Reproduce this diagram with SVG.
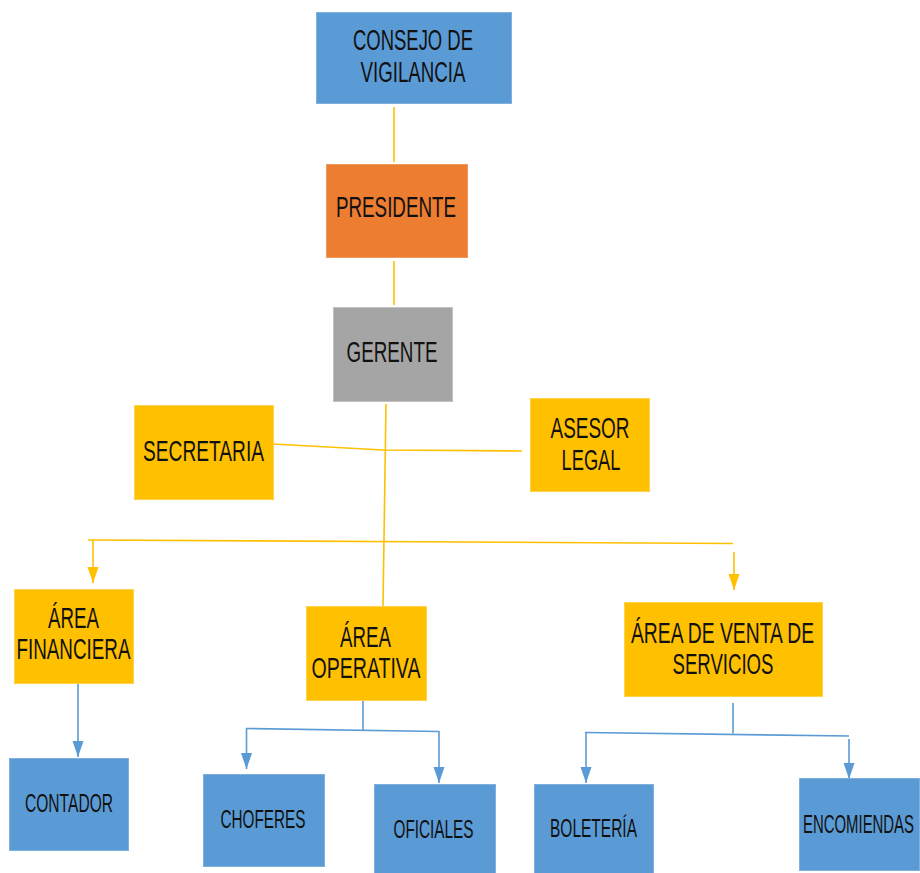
<svg xmlns="http://www.w3.org/2000/svg" width="920" height="873" viewBox="0 0 920 873">
  <defs>
    <style>
      .box { stroke-width: 1; }
      .blue { fill: #5b9bd5; stroke: #7fb0de; }
      .orange { fill: #ed7d31; stroke: #f09a5e; }
      .gray { fill: #a5a5a5; stroke: #c2c2c2; }
      .gold { fill: #ffc000; stroke: #ffd24d; }
      .lbl { font-family: "Liberation Sans", Arial, sans-serif; font-size: 29px; fill: #111; text-anchor: middle; }
      .sm { font-size: 25px; }
      .ylw { stroke: #ffc000; stroke-width: 1.6; fill: none; }
      .blu { stroke: #5b9bd5; stroke-width: 1.6; fill: none; }
    </style>
    <marker id="arrY" markerUnits="userSpaceOnUse" markerWidth="16" markerHeight="12" refX="16" refY="6" orient="auto">
      <path d="M0,0.5 L16,6 L0,11.5 z" fill="#ffc000"/>
    </marker>
    <marker id="arrB" markerUnits="userSpaceOnUse" markerWidth="16" markerHeight="12" refX="16" refY="6" orient="auto">
      <path d="M0,0.5 L16,6 L0,11.5 z" fill="#5b9bd5"/>
    </marker>
  </defs>

  <!-- connectors -->
  <g id="connectors">
    <line class="ylw" x1="394" y1="107" x2="394" y2="162"/>
    <line class="ylw" x1="394" y1="261" x2="394" y2="305"/>
    <line class="ylw" x1="386" y1="404" x2="383" y2="606"/>
    <polyline class="ylw" points="273,444 383,450 522,451"/>
    <line class="ylw" x1="88" y1="540" x2="733" y2="543.5"/>
    <line class="ylw" x1="93" y1="540" x2="93" y2="583" marker-end="url(#arrY)"/>
    <line class="ylw" x1="734" y1="552" x2="734" y2="590" marker-end="url(#arrY)"/>

    <line class="blu" x1="78" y1="684" x2="78" y2="757" marker-end="url(#arrB)"/>

    <line class="blu" x1="363" y1="700" x2="363" y2="730"/>
    <line class="blu" x1="246" y1="728.5" x2="439.5" y2="731.5"/>
    <line class="blu" x1="246.5" y1="728.5" x2="246.5" y2="769" marker-end="url(#arrB)"/>
    <line class="blu" x1="439" y1="731.5" x2="439" y2="783" marker-end="url(#arrB)"/>

    <line class="blu" x1="733" y1="703" x2="733" y2="733.5"/>
    <line class="blu" x1="585" y1="732.5" x2="849" y2="736"/>
    <line class="blu" x1="586" y1="732.5" x2="586" y2="783" marker-end="url(#arrB)"/>
    <line class="blu" x1="849" y1="739" x2="849" y2="779" marker-end="url(#arrB)"/>
  </g>

  <!-- nodes -->
  <g id="consejo">
    <rect class="box blue" x="316.5" y="12.5" width="195" height="91"/>
    <text class="lbl" x="413" y="50" textLength="120" lengthAdjust="spacingAndGlyphs">CONSEJO DE</text>
    <text class="lbl" x="413" y="82" textLength="105" lengthAdjust="spacingAndGlyphs">VIGILANCIA</text>
  </g>
  <g id="presidente">
    <rect class="box orange" x="326.5" y="164.5" width="141" height="93"/>
    <text class="lbl" x="396" y="217" textLength="120" lengthAdjust="spacingAndGlyphs">PRESIDENTE</text>
  </g>
  <g id="gerente">
    <rect class="box gray" x="333.5" y="307.5" width="119" height="94"/>
    <text class="lbl" x="392" y="362" textLength="91" lengthAdjust="spacingAndGlyphs">GERENTE</text>
  </g>
  <g id="secretaria">
    <rect class="box gold" x="134.5" y="405.5" width="139" height="94"/>
    <text class="lbl" x="203.5" y="461" textLength="121" lengthAdjust="spacingAndGlyphs">SECRETARIA</text>
  </g>
  <g id="asesor-legal">
    <rect class="box gold" x="530.5" y="398.5" width="119" height="93"/>
    <text class="lbl" x="590" y="438" textLength="79" lengthAdjust="spacingAndGlyphs">ASESOR</text>
    <text class="lbl" x="591" y="470" textLength="59" lengthAdjust="spacingAndGlyphs">LEGAL</text>
  </g>
  <g id="area-financiera">
    <rect class="box gold" x="14.5" y="589.5" width="119" height="94"/>
    <text class="lbl" x="73.5" y="628" textLength="51" lengthAdjust="spacingAndGlyphs">ÁREA</text>
    <text class="lbl" x="73.5" y="659" textLength="114" lengthAdjust="spacingAndGlyphs">FINANCIERA</text>
  </g>
  <g id="area-operativa">
    <rect class="box gold" x="306.5" y="606.5" width="120" height="94"/>
    <text class="lbl" x="365.5" y="647" textLength="51" lengthAdjust="spacingAndGlyphs">ÁREA</text>
    <text class="lbl" x="366" y="678" textLength="109" lengthAdjust="spacingAndGlyphs">OPERATIVA</text>
  </g>
  <g id="area-venta">
    <rect class="box gold" x="624.5" y="602.5" width="198" height="94"/>
    <text class="lbl" x="722.5" y="643" textLength="183" lengthAdjust="spacingAndGlyphs">ÁREA DE VENTA DE</text>
    <text class="lbl" x="723" y="674" textLength="101" lengthAdjust="spacingAndGlyphs">SERVICIOS</text>
  </g>
  <g id="contador">
    <rect class="box blue" x="9.5" y="758.5" width="119" height="92"/>
    <text class="lbl sm" x="69" y="812" textLength="88" lengthAdjust="spacingAndGlyphs">CONTADOR</text>
  </g>
  <g id="choferes">
    <rect class="box blue" x="203.5" y="774.5" width="121" height="92"/>
    <text class="lbl sm" x="263" y="828" textLength="85" lengthAdjust="spacingAndGlyphs">CHOFERES</text>
  </g>
  <g id="oficiales">
    <rect class="box blue" x="374.5" y="784.5" width="121" height="95"/>
    <text class="lbl sm" x="433.5" y="838" textLength="80" lengthAdjust="spacingAndGlyphs">OFICIALES</text>
  </g>
  <g id="boleteria">
    <rect class="box blue" x="534.5" y="784.5" width="119" height="95"/>
    <text class="lbl sm" x="593.5" y="837" textLength="87" lengthAdjust="spacingAndGlyphs">BOLETERÍA</text>
  </g>
  <g id="encomiendas">
    <rect class="box blue" x="799.5" y="778.5" width="120" height="92"/>
    <text class="lbl sm" x="858.5" y="833" textLength="111" lengthAdjust="spacingAndGlyphs">ENCOMIENDAS</text>
  </g>
</svg>
